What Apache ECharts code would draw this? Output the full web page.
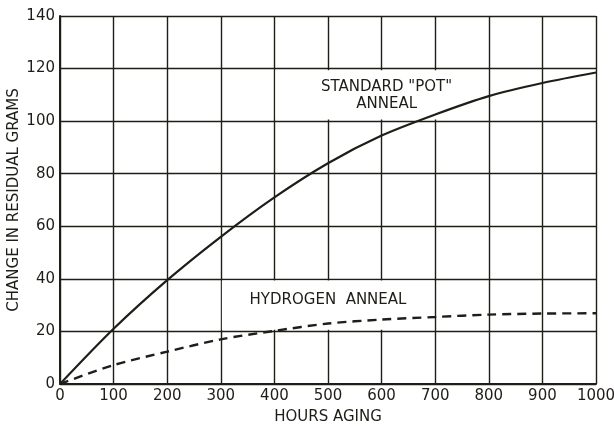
<!DOCTYPE html>
<html>
<head>
<meta charset="utf-8">
<script src="https://cdn.jsdelivr.net/npm/echarts@6/dist/echarts.min.js"></script>
<style>html,body{margin:0;padding:0;background:#fff}#c{width:614px;height:427px}</style>
</head>
<body>
<div id="c"></div>
<script>
const hours = [0, 100, 200, 300, 400, 500, 600, 700, 800, 900, 1000];
const standardPot = [0, 21, 39.5, 56, 71, 84, 94.5, 102.5, 109.5, 114.5, 118.5];
const hydrogen = [0, 7.2, 12.3, 17, 20.2, 23, 24.5, 25.5, 26.4, 26.8, 26.9];
const labelStandard = 'STANDARD "POT"\nANNEAL';
const labelHydrogen = 'HYDROGEN  ANNEAL';
const ink = '#1f1d18';
const font = 'DejaVu Sans';

const chart = echarts.init(document.getElementById('c'));
chart.setOption({
  animation: false,
  backgroundColor: '#fff',
  grid: { left: 60, right: 18, top: 16, bottom: 43, containLabel: false, outerBoundsMode: 'none' },
  xAxis: {
    type: 'value', min: 0, max: 1000, interval: 100,
    name: 'HOURS AGING', nameLocation: 'middle', nameGap: 26, nameMoveOverlap: false,
    nameTextStyle: { color: ink, fontFamily: font, fontSize: 15 },
    axisLine: { show: true, lineStyle: { color: ink, width: 2 } },
    axisTick: { show: false },
    axisLabel: { color: ink, fontFamily: font, fontSize: 15, margin: 5, formatter: v => String(v) },
    splitLine: { show: true, lineStyle: { color: ink, width: 1.4 } }
  },
  yAxis: {
    type: 'value', min: 0, max: 140, interval: 20,
    name: 'CHANGE IN RESIDUAL GRAMS', nameLocation: 'middle', nameGap: 38, nameMoveOverlap: false,
    nameTextStyle: { color: ink, fontFamily: font, fontSize: 15 },
    axisLine: { show: true, lineStyle: { color: ink, width: 2 } },
    axisTick: { show: false },
    axisLabel: { color: ink, fontFamily: font, fontSize: 15, margin: 5 },
    splitLine: { show: true, lineStyle: { color: ink, width: 1.4 } }
  },
  series: [
    {
      type: 'line', data: [], z: 1, silent: true,
      markArea: {
        silent: true,
        itemStyle: { color: '#fff' },
        label: { show: true, position: 'inside', color: ink, fontFamily: font, fontSize: 15, lineHeight: 17 },
        data: [
          [{ coord: [402, 100.6], name: labelStandard, label: { offset: [5, 1] } }, { coord: [798, 119.4] }],
          [{ coord: [302, 20.6], name: labelHydrogen, label: { offset: [0, -5] } }, { coord: [698, 39.4] }]
        ]
      }
    },
    {
      type: 'line', name: 'Standard', z: 3, smooth: 0.3, symbol: 'none',
      data: hours.map((h, i) => [h, standardPot[i]]),
      lineStyle: { color: ink, width: 2.2 }
    },
    {
      type: 'line', name: 'Hydrogen', z: 3, smooth: 0.3, symbol: 'none',
      data: hours.map((h, i) => [h, hydrogen[i]]),
      lineStyle: { color: ink, width: 2.4, type: [9, 6] }
    }
  ]
});
</script>
</body>
</html>
